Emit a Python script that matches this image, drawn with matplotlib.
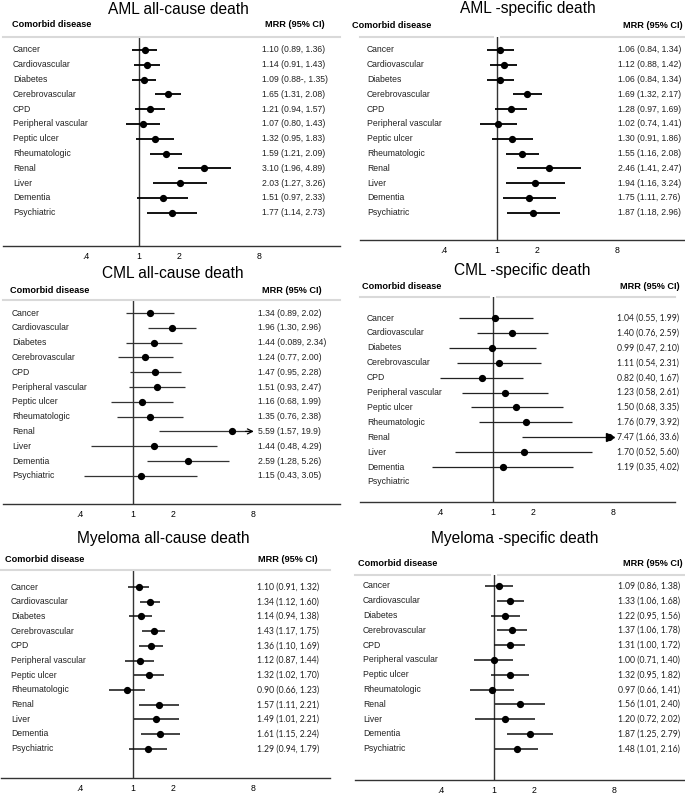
import numpy as np
import matplotlib
matplotlib.use("Agg")
import matplotlib.pyplot as plt
from matplotlib.ticker import NullLocator
from matplotlib.transforms import blended_transform_factory

plt.rcParams['font.family'] = ['Liberation Sans', 'DejaVu Sans']

diseases = ["Cancer", "Cardiovascular", "Diabetes", "Cerebrovascular", "CPD",
            "Peripheral vascular", "Peptic ulcer", "Rheumatologic", "Renal",
            "Liver", "Dementia", "Psychiatric"]
ticks = [0.4, 1, 2, 8]
tick_labels = [".4", "1", "2", "8"]

# AML all-cause
aml_all_mrr = [1.10, 1.14, 1.09, 1.65, 1.21, 1.07, 1.32, 1.59, 3.10, 2.03, 1.51, 1.77]
aml_all_lo = [0.89, 0.91, 0.88, 1.31, 0.94, 0.80, 0.95, 1.21, 1.96, 1.27, 0.97, 1.14]
aml_all_hi = [1.36, 1.43, 1.35, 2.08, 1.57, 1.43, 1.83, 2.09, 4.89, 3.26, 2.33, 2.73]
aml_all_txt = ["1.10 (0.89, 1.36)", "1.14 (0.91, 1.43)", "1.09 (0.88-, 1.35)",
               "1.65 (1.31, 2.08)", "1.21 (0.94, 1.57)", "1.07 (0.80, 1.43)",
               "1.32 (0.95, 1.83)", "1.59 (1.21, 2.09)", "3.10 (1.96, 4.89)",
               "2.03 (1.27, 3.26)", "1.51 (0.97, 2.33)", "1.77 (1.14, 2.73)"]

# AML-specific
aml_sp_mrr = [1.06, 1.12, 1.06, 1.69, 1.28, 1.02, 1.30, 1.55, 2.46, 1.94, 1.75, 1.87]
aml_sp_lo = [0.84, 0.88, 0.84, 1.32, 0.97, 0.74, 0.91, 1.16, 1.41, 1.16, 1.11, 1.18]
aml_sp_hi = [1.34, 1.42, 1.34, 2.17, 1.69, 1.41, 1.86, 2.08, 4.30, 3.24, 2.76, 2.96]
aml_sp_txt = ["1.06 (0.84, 1.34)", "1.12 (0.88, 1.42)", "1.06 (0.84, 1.34)",
              "1.69 (1.32, 2.17)", "1.28 (0.97, 1.69)", "1.02 (0.74, 1.41)",
              "1.30 (0.91, 1.86)", "1.55 (1.16, 2.08)", "2.46 (1.41, 2.47)",
              "1.94 (1.16, 3.24)", "1.75 (1.11, 2.76)", "1.87 (1.18, 2.96)"]

# CML all-cause
cml_all_mrr = [1.34, 1.96, 1.44, 1.24, 1.47, 1.51, 1.16, 1.35, 5.59, 1.44, 2.59, 1.15]
cml_all_lo = [0.89, 1.30, 0.89, 0.77, 0.95, 0.93, 0.68, 0.76, 1.57, 0.48, 1.28, 0.43]
cml_all_hi = [2.02, 2.96, 2.34, 2.00, 2.28, 2.47, 1.99, 2.38, 19.9, 4.29, 5.26, 3.05]
cml_all_txt = ["1.34 (0.89, 2.02)", "1.96 (1.30, 2.96)", "1.44 (0.089, 2.34)",
               "1.24 (0.77, 2.00)", "1.47 (0.95, 2.28)", "1.51 (0.93, 2.47)",
               "1.16 (0.68, 1.99)", "1.35 (0.76, 2.38)", "5.59 (1.57, 19.9)",
               "1.44 (0.48, 4.29)", "2.59 (1.28, 5.26)", "1.15 (0.43, 3.05)"]

# CML-specific (no psychiatric estimate)
cml_sp_mrr = [1.04, 1.40, 0.99, 1.11, 0.82, 1.23, 1.50, 1.76, 7.47, 1.70, 1.19, np.nan]
cml_sp_lo = [0.55, 0.76, 0.47, 0.54, 0.40, 0.58, 0.68, 0.79, 1.66, 0.52, 0.35, np.nan]
cml_sp_hi = [1.99, 2.59, 2.10, 2.31, 1.67, 2.61, 3.35, 3.92, 33.6, 5.60, 4.02, np.nan]
cml_sp_txt = ["1.04 (0.55, 1.99)", "1.40 (0.76, 2.59)", "0.99 (0.47, 2.10)",
              "1.11 (0.54, 2.31)", "0.82 (0.40, 1.67)", "1.23 (0.58, 2.61)",
              "1.50 (0.68, 3.35)", "1.76 (0.79, 3.92)", "7.47 (1.66, 33.6)",
              "1.70 (0.52, 5.60)", "1.19 (0.35, 4.02)", ""]

# Myeloma all-cause
mm_all_mrr = [1.10, 1.34, 1.14, 1.43, 1.36, 1.12, 1.32, 0.90, 1.57, 1.49, 1.61, 1.29]
mm_all_lo = [0.91, 1.12, 0.94, 1.17, 1.10, 0.87, 1.02, 0.66, 1.11, 1.01, 1.15, 0.94]
mm_all_hi = [1.32, 1.60, 1.38, 1.75, 1.69, 1.44, 1.70, 1.23, 2.21, 2.21, 2.24, 1.79]
mm_all_txt = ["1.10 (0.91, 1.32)", "1.34 (1.12, 1.60)", "1.14 (0.94, 1.38)",
              "1.43 (1.17, 1.75)", "1.36 (1.10, 1.69)", "1.12 (0.87, 1.44)",
              "1.32 (1.02, 1.70)", "0.90 (0.66, 1.23)", "1.57 (1.11, 2.21)",
              "1.49 (1.01, 2.21)", "1.61 (1.15, 2.24)", "1.29 (0.94, 1.79)"]

# Myeloma-specific
mm_sp_mrr = [1.09, 1.33, 1.22, 1.37, 1.31, 1.00, 1.32, 0.97, 1.56, 1.20, 1.87, 1.48]
mm_sp_lo = [0.86, 1.06, 0.95, 1.06, 1.00, 0.71, 0.95, 0.66, 1.01, 0.72, 1.25, 1.01]
mm_sp_hi = [1.38, 1.68, 1.56, 1.78, 1.72, 1.40, 1.82, 1.41, 2.40, 2.02, 2.79, 2.16]
mm_sp_txt = ["1.09 (0.86, 1.38)", "1.33 (1.06, 1.68)", "1.22 (0.95, 1.56)",
             "1.37 (1.06, 1.78)", "1.31 (1.00, 1.72)", "1.00 (0.71, 1.40)",
             "1.32 (0.95, 1.82)", "0.97 (0.66, 1.41)", "1.56 (1.01, 2.40)",
             "1.20 (0.72, 2.02)", "1.87 (1.25, 2.79)", "1.48 (1.01, 2.16)"]

W, H = 685, 794
PX_PER_DOUBLING = 40.0

# layout in pixels: box = (left, right, separator y, axis y)
panels = [
    dict(title="AML all-cause death", mrr=aml_all_mrr, lo=aml_all_lo, hi=aml_all_hi, txt=aml_all_txt,
         box=(3, 340, 37, 246), one=139, row0=50, step=14.8, title_xy=(178, 9), head_y=25,
         head_x=12, mrr_right=325, lab_x=13, val_x=262, gap=False, lw=1.3, color="black",
         vfont="Liberation Sans", cap=None),
    dict(title="AML -specific death", mrr=aml_sp_mrr, lo=aml_sp_lo, hi=aml_sp_hi, txt=aml_sp_txt,
         box=(360, 685, 37, 240), one=497, row0=50, step=14.8, title_xy=(528, 9), head_y=25,
         head_x=352, mrr_right=683, lab_x=367, val_x=618, gap=True, lw=1.3, color="black",
         vfont="Liberation Sans", cap=None),
    dict(title="CML all-cause death", mrr=cml_all_mrr, lo=cml_all_lo, hi=cml_all_hi, txt=cml_all_txt,
         box=(3, 340, 300, 504), one=133, row0=313, step=14.8, title_xy=(173, 274), head_y=290,
         head_x=10, mrr_right=322, lab_x=12, val_x=258, gap=False, lw=0.9, color="#333333",
         vfont="Liberation Sans", cap=(7.8, "open")),
    dict(title="CML -specific death", mrr=cml_sp_mrr, lo=cml_sp_lo, hi=cml_sp_hi, txt=cml_sp_txt,
         box=(360, 675, 297, 502), one=493, row0=318, step=14.9, title_xy=(522, 270), head_y=286,
         head_x=362, mrr_right=680, lab_x=367, val_x=617, gap=True, lw=0.9, color="#222222",
         vfont="Lato", cap=(7.6, "filled")),
    dict(title="Myeloma all-cause death", mrr=mm_all_mrr, lo=mm_all_lo, hi=mm_all_hi, txt=mm_all_txt,
         box=(1, 330, 570, 778), one=133, row0=587, step=14.7, title_xy=(163, 538), head_y=559,
         head_x=5, mrr_right=318, lab_x=11, val_x=257, gap=False, lw=1.1, color="#111111",
         vfont="Lato", cap=None),
    dict(title="Myeloma -specific death", mrr=mm_sp_mrr, lo=mm_sp_lo, hi=mm_sp_hi, txt=mm_sp_txt,
         box=(355, 685, 575, 780), one=494, row0=586, step=14.8, title_xy=(515, 538), head_y=564,
         head_x=358, mrr_right=683, lab_x=363, val_x=618, gap=True, lw=1.1, color="#111111",
         vfont="Lato", cap=None),
]

fig = plt.figure(figsize=(W / 100, H / 100), dpi=100)

for p in panels:
    L, R, S, B = p["box"]
    ax = fig.add_axes([L / W, 1 - B / H, (R - L) / W, (B - S) / H])
    ax.set_xscale("log", base=2)
    ax.set_xlim(2 ** ((L - p["one"]) / PX_PER_DOUBLING), 2 ** ((R - p["one"]) / PX_PER_DOUBLING))
    ytop = (S - p["row0"]) / p["step"]
    ybot = (B - p["row0"]) / p["step"]
    ax.set_ylim(ybot, ytop)

    for side in ["top", "left", "right"]:
        ax.spines[side].set_visible(False)
    ax.spines["bottom"].set_color("#333333")
    ax.spines["bottom"].set_linewidth(1.0)
    ax.set_yticks([])
    ax.set_xticks(ticks, tick_labels)
    ax.xaxis.set_minor_locator(NullLocator())
    ax.tick_params(axis="x", length=0, pad=4, labelsize=6.3)

    ax.axvline(1, color="#333333", lw=1.0, zorder=1)

    # header separator
    if p["gap"]:
        g = (p["one"] - L) / (R - L)
        d = 4 / (R - L)
        ax.axhline(ytop, xmin=0, xmax=g - d, color="#d9d9d9", lw=1.5, clip_on=False)
        ax.axhline(ytop, xmin=g + d, xmax=1, color="#d9d9d9", lw=1.5, clip_on=False)
    else:
        ax.axhline(ytop, color="#d9d9d9", lw=1.5, clip_on=False)

    rows = np.arange(len(diseases))
    mrr = np.array(p["mrr"], dtype=float)
    lo = np.array(p["lo"], dtype=float)
    hi = np.array(p["hi"], dtype=float)
    ok = np.isfinite(mrr)
    hi_draw = hi.copy()
    if p["cap"] is not None:
        hi_draw = np.minimum(hi, p["cap"][0])
    ax.errorbar(mrr[ok], rows[ok], xerr=[mrr[ok] - lo[ok], hi_draw[ok] - mrr[ok]],
                fmt="o", color=p["color"], ecolor=p["color"], ms=4.2, mec="black", mfc="black",
                elinewidth=p["lw"], capsize=0, zorder=3)
    if p["cap"] is not None:
        over = ok & (hi > p["cap"][0])
        if p["cap"][1] == "open":
            for r in rows[over]:
                ax.annotate("", xy=(p["cap"][0] * 1.04, r), xytext=(p["cap"][0] * 0.9, r),
                            arrowprops=dict(arrowstyle="->", lw=0.9, color="black",
                                            mutation_scale=9, shrinkA=0, shrinkB=0))
        else:
            ax.plot(np.full(over.sum(), p["cap"][0]), rows[over], marker=">", ms=5.5,
                    color="black", ls="none", zorder=4)

    tr = blended_transform_factory(ax.transAxes, ax.transData)
    fx = lambda px: (px - L) / (R - L)
    for r, name in zip(rows, diseases):
        ax.text(fx(p["lab_x"]), r, name, transform=tr, fontsize=6.2, va="center", ha="left",
                color="#222222")
    for r, s in zip(rows, p["txt"]):
        ax.text(fx(p["val_x"]), r, s, transform=tr, fontsize=6.2, va="center", ha="left",
                color="#222222", family=[p["vfont"], "DejaVu Sans"])
    hy = (p["head_y"] - p["row0"]) / p["step"]
    ax.text(fx(p["head_x"]), hy, "Comorbid disease", transform=tr, fontsize=6.6,
            fontweight="bold", va="center", ha="left")
    ax.text(fx(p["mrr_right"]), hy, "MRR (95% CI)", transform=tr, fontsize=6.6,
            fontweight="bold", va="center", ha="right")

    tx, ty = p["title_xy"]
    fig.text(tx / W, 1 - ty / H, p["title"], fontsize=11.2, ha="center", va="center")

fig.savefig("out.png", dpi=100)
